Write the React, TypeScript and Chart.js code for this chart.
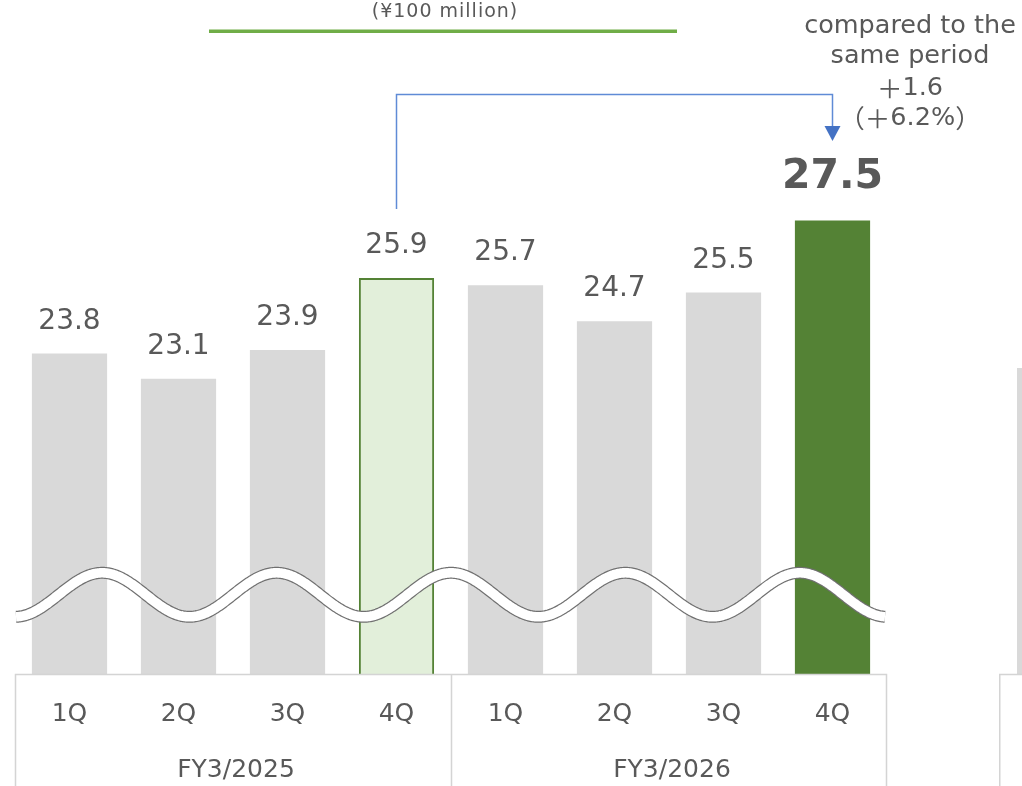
import React, { useEffect, useRef } from "react";
import { Chart, registerables } from "chart.js";

Chart.register(...registerables);

// ---- data ----
const quarters = ["1Q", "2Q", "3Q", "4Q", "1Q", "2Q", "3Q", "4Q"];
const fiscalYears = ["FY3/2025", "FY3/2026"];
const values = [23.8, 23.1, 23.9, 25.9, 25.7, 24.7, 25.5, 27.5];
const nextChartValues = [23.4];
const unitLabel = "(¥100 million)";
const compareLines = ["compared to the", "same period", "＋1.6", "（＋6.2%）"];
const Y_MIN = 14.9;
const Y_MAX = 29.0;
const WAVE_VALUE = 17.1;

// ---- styles ----
const GRAY_BAR = "#D9D9D9";
const LIGHT_GREEN = "#E2EFDA";
const DARK_GREEN = "#548235";
const LINE_GREEN = "#70AD47";
const BLUE = "#4472C4";
const TEXT = "#595959";
const AXIS_LINE = "#D4D4D4";
const FONT = '"DejaVu Sans", "Noto Sans CJK JP", sans-serif';
const CJK_FONT = '"Noto Sans CJK JP", sans-serif';

const barColors = values.map((_, i) => (i === 3 ? LIGHT_GREEN : i === 7 ? DARK_GREEN : GRAY_BAR));
const borderColors = values.map((_, i) => (i === 3 ? DARK_GREEN : "rgba(0,0,0,0)"));
const borderWidths = values.map((_, i) => (i === 3 ? 2 : 0));

function drawMixed(ctx: CanvasRenderingContext2D, text: string, cx: number, cy: number, size: number) {
  // split into runs of full-width characters and normal characters
  const runs: { t: string; wide: boolean }[] = [];
  for (const ch of Array.from(text)) {
    const wide = ch.charCodeAt(0) >= 0xff00;
    const last = runs[runs.length - 1];
    if (last && last.wide === wide) last.t += ch;
    else runs.push({ t: ch, wide });
  }
  const fontFor = (wide: boolean) => `${size}px ${wide ? CJK_FONT : FONT}`;
  let total = 0;
  const widths = runs.map((r) => {
    ctx.font = fontFor(r.wide);
    const w = ctx.measureText(r.t).width;
    total += w;
    return w;
  });
  let x = cx - total / 2;
  ctx.textAlign = "left";
  runs.forEach((r, i) => {
    ctx.font = fontFor(r.wide);
    ctx.fillText(r.t, x, cy);
    x += widths[i];
  });
  ctx.textAlign = "center";
}

const mainPlugin = {
  id: "mainDecor",
  afterDatasetsDraw(chart: any) {
    const { ctx, chartArea, scales } = chart;
    const x = scales.x;
    const y = scales.y;
    const meta = chart.getDatasetMeta(0);
    const left = chartArea.left;
    const right = chartArea.right;
    const catW = (right - left) / values.length;

    // wave (axis break)
    const c = y.getPixelForValue(WAVE_VALUE);
    const A = 22;
    const P = 1.6 * catW;
    ctx.save();
    ctx.beginPath();
    for (let px = left + 1; px <= right - 2; px += 1) {
      const py = c + A * Math.cos((2 * Math.PI * (px - left)) / P);
      if (px === left + 1) ctx.moveTo(px, py);
      else ctx.lineTo(px, py);
    }
    ctx.lineCap = "butt";
    ctx.lineJoin = "round";
    ctx.strokeStyle = "#707070";
    ctx.lineWidth = 12;
    ctx.stroke();
    ctx.strokeStyle = "#FFFFFF";
    ctx.lineWidth = 9.6;
    ctx.stroke();
    ctx.restore();

    // value labels
    ctx.save();
    ctx.fillStyle = TEXT;
    ctx.textAlign = "center";
    ctx.textBaseline = "middle";
    meta.data.forEach((bar: any, i: number) => {
      if (i === 7) {
        ctx.font = `bold 41px ${FONT}`;
        ctx.fillText(values[i].toFixed(1), bar.x, bar.y - 43);
      } else {
        ctx.font = `28px ${FONT}`;
        ctx.fillText(values[i].toFixed(1), bar.x, bar.y - 32);
      }
    });
    ctx.restore();

    // axis box
    const top = chartArea.bottom;
    const bottom = chart.height + 2;
    const divX = (x.getPixelForValue(3) + x.getPixelForValue(4)) / 2;
    ctx.save();
    ctx.strokeStyle = AXIS_LINE;
    ctx.lineWidth = 1.5;
    ctx.beginPath();
    ctx.moveTo(left + 0.5, bottom);
    ctx.lineTo(left + 0.5, top + 0.5);
    ctx.lineTo(right - 0.5, top + 0.5);
    ctx.lineTo(right - 0.5, bottom);
    ctx.moveTo(Math.round(divX) + 0.5, top + 0.5);
    ctx.lineTo(Math.round(divX) + 0.5, bottom);
    ctx.stroke();

    ctx.fillStyle = TEXT;
    ctx.textAlign = "center";
    ctx.textBaseline = "middle";
    ctx.font = `25px ${FONT}`;
    quarters.forEach((q, i) => {
      ctx.fillText(q, x.getPixelForValue(i), top + 40);
    });
    fiscalYears.forEach((fy, g) => {
      const cx = (x.getPixelForValue(g * 4) + x.getPixelForValue(g * 4 + 3)) / 2;
      ctx.fillText(fy, cx + 3, top + 96);
    });
    ctx.restore();

    // bracket arrow from 4Q FY3/2025 to 4Q FY3/2026
    const x1 = meta.data[3].x;
    const x2 = meta.data[7].x;
    ctx.save();
    ctx.strokeStyle = "#5F8BD6";
    ctx.lineWidth = 1.5;
    ctx.beginPath();
    ctx.moveTo(x1, 209);
    ctx.lineTo(x1, 94.5);
    ctx.lineTo(x2, 94.5);
    ctx.lineTo(x2, 128);
    ctx.stroke();
    ctx.fillStyle = BLUE;
    ctx.beginPath();
    ctx.moveTo(x2 - 8, 126);
    ctx.lineTo(x2 + 8, 126);
    ctx.lineTo(x2, 141);
    ctx.closePath();
    ctx.fill();
    ctx.restore();

    // annotation text
    ctx.save();
    ctx.fillStyle = TEXT;
    ctx.textAlign = "center";
    ctx.textBaseline = "middle";
    const ly = [26, 56, 88, 118];
    compareLines.forEach((t, i) => drawMixed(ctx, t, 910, ly[i], 25.5));

    // unit title + green rule
    ctx.font = `19px ${FONT}`;
    (ctx as any).letterSpacing = "1px";
    ctx.fillText(unitLabel, 445, 12);
    (ctx as any).letterSpacing = "0px";
    ctx.fillStyle = LINE_GREEN;
    ctx.fillRect(209, 29.5, 468, 3.5);
    ctx.restore();
  },
};

const nextPlugin = {
  id: "nextDecor",
  afterDatasetsDraw(chart: any) {
    const { ctx, chartArea } = chart;
    ctx.save();
    ctx.strokeStyle = AXIS_LINE;
    ctx.lineWidth = 1.5;
    ctx.beginPath();
    ctx.moveTo(chartArea.left + 0.75, chart.height + 2);
    ctx.lineTo(chartArea.left + 0.75, chartArea.bottom + 0.5);
    ctx.lineTo(chart.width + 2, chartArea.bottom + 0.5);
    ctx.stroke();
    ctx.restore();
  },
};

export default function App() {
  const mainRef = useRef<HTMLCanvasElement>(null);
  const nextRef = useRef<HTMLCanvasElement>(null);

  useEffect(() => {
    const main = new Chart(mainRef.current as HTMLCanvasElement, {
      type: "bar",
      data: {
        labels: quarters.map((q, i) => `${fiscalYears[Math.floor(i / 4)]} ${q}`),
        datasets: [
          {
            data: values,
            backgroundColor: barColors,
            borderColor: borderColors,
            borderWidth: borderWidths,
            categoryPercentage: 1,
            barPercentage: 0.69,
          },
        ],
      },
      options: {
        animation: false,
        responsive: true,
        maintainAspectRatio: false,
        layout: { padding: { left: 15, right: 135, top: 166.4, bottom: 112 } },
        plugins: { legend: { display: false }, tooltip: { enabled: false }, title: { display: false } },
        scales: {
          x: { display: false, offset: true },
          y: { display: false, min: Y_MIN, max: Y_MAX },
        },
      },
      plugins: [mainPlugin],
    });

    const next = new Chart(nextRef.current as HTMLCanvasElement, {
      type: "bar",
      data: {
        labels: ["next"],
        datasets: [
          {
            data: nextChartValues,
            backgroundColor: GRAY_BAR,
            borderWidth: 0,
            categoryPercentage: 1,
            barPercentage: 75 / 111,
          },
        ],
      },
      options: {
        animation: false,
        responsive: true,
        maintainAspectRatio: false,
        layout: { padding: { left: 0, right: 0, top: 166.4, bottom: 112 } },
        plugins: { legend: { display: false }, tooltip: { enabled: false } },
        scales: {
          x: { display: false, offset: true },
          y: { display: false, min: Y_MIN, max: Y_MAX },
        },
      },
      plugins: [nextPlugin],
    });

    return () => {
      main.destroy();
      next.destroy();
    };
  }, []);

  return (
    <div
      style={{
        position: "fixed",
        left: 0,
        top: 0,
        width: 1022,
        height: 786,
        overflow: "hidden",
        background: "#FFFFFF",
      }}
    >
      <div style={{ position: "absolute", left: 0, top: 0, width: 1022, height: 786 }}>
        <canvas ref={mainRef} />
      </div>
      <div style={{ position: "absolute", left: 999, top: 0, width: 111, height: 786 }}>
        <canvas ref={nextRef} />
      </div>
    </div>
  );
}
